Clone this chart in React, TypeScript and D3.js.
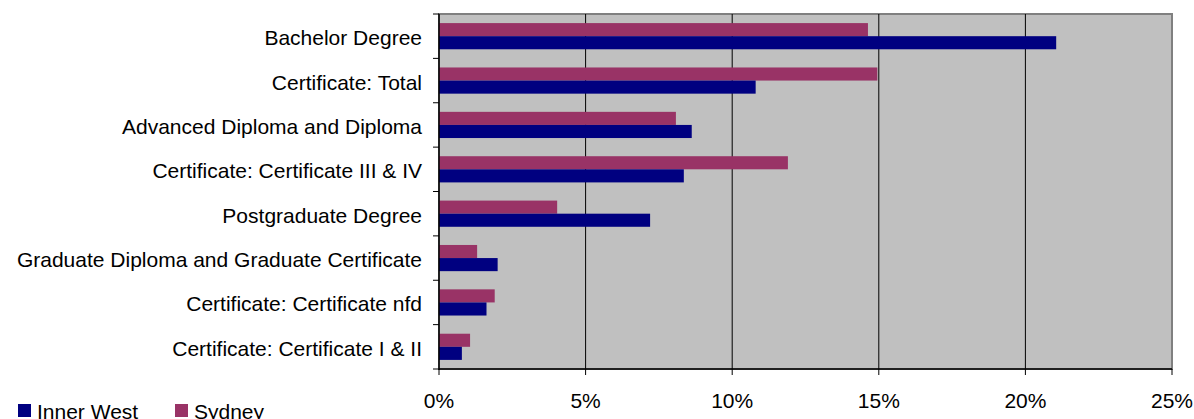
import * as d3 from "d3";

const categories = [
  "Bachelor Degree",
  "Certificate: Total",
  "Advanced Diploma and Diploma",
  "Certificate: Certificate III & IV",
  "Postgraduate Degree",
  "Graduate Diploma and Graduate Certificate",
  "Certificate: Certificate nfd",
  "Certificate: Certificate I & II",
];
const innerWest = [21.05, 10.8, 8.62, 8.35, 7.2, 2.0, 1.62, 0.78];
const sydney = [14.63, 14.95, 8.08, 11.9, 4.03, 1.3, 1.9, 1.06];
const xTicks = [0, 5, 10, 15, 20, 25];

const seriesNames = ["Inner West", "Sydney"];
const colors = ["#000080", "#993366"];

const width = 1194;
const height = 419;
const margin = { left: 439, right: 22, top: 14, bottom: 50 };

export default function App() {
  const x = d3
    .scaleLinear()
    .domain([0, 25])
    .range([margin.left, width - margin.right]);
  const y = d3
    .scaleBand<string>()
    .domain(categories)
    .range([margin.top, height - margin.bottom])
    .paddingInner(0.41)
    .paddingOuter(0.205);
  const inner = d3
    .scaleBand<string>()
    .domain(["Sydney", "Inner West"])
    .range([0, y.bandwidth()]);

  const plotTop = margin.top;
  const plotBottom = height - margin.bottom;
  const step = (plotBottom - plotTop) / categories.length;
  const font = "'Liberation Sans', Arial, sans-serif";
  const fs = 21;

  return (
    <svg
      width={width}
      height={height}
      style={{ position: "absolute", left: 0, top: 0 }}
      fontFamily={font}
    >
      <rect
        x={x(0)}
        y={plotTop}
        width={x(25) - x(0)}
        height={plotBottom - plotTop}
        fill="#c0c0c0"
        stroke="#808080"
        strokeWidth={2}
      />
      {xTicks.slice(1, -1).map((t) => (
        <line
          key={t}
          x1={x(t)}
          x2={x(t)}
          y1={plotTop}
          y2={plotBottom}
          stroke="#000"
          strokeWidth={1}
        />
      ))}
      {categories.map((c, i) => (
        <g key={c}>
          <rect
            x={x(0)}
            y={(y(c) as number) + (inner("Sydney") as number)}
            width={x(sydney[i]) - x(0)}
            height={inner.bandwidth()}
            fill={colors[1]}
          />
          <rect
            x={x(0)}
            y={(y(c) as number) + (inner("Inner West") as number)}
            width={x(innerWest[i]) - x(0)}
            height={inner.bandwidth()}
            fill={colors[0]}
          />
          <text
            x={422}
            y={(y(c) as number) + y.bandwidth() / 2 + 9}
            textAnchor="end"
            fontSize={fs}
            fill="#000"
          >
            {c}
          </text>
        </g>
      ))}
      {/* left axis */}
      <line x1={x(0)} x2={x(0)} y1={plotTop} y2={plotBottom + 1} stroke="#000" strokeWidth={1.5} />
      {d3.range(categories.length + 1).map((i) => (
        <line
          key={i}
          x1={x(0) - 6}
          x2={x(0)}
          y1={plotTop + i * step}
          y2={plotTop + i * step}
          stroke="#000"
        />
      ))}
      {/* bottom axis */}
      <line x1={x(0)} x2={x(25)} y1={plotBottom} y2={plotBottom} stroke="#000" strokeWidth={1.5} />
      {xTicks.map((t) => (
        <g key={t}>
          <line x1={x(t)} x2={x(t)} y1={plotBottom} y2={plotBottom + 6} stroke="#000" />
          <text x={x(t)} y={plotBottom + 39} textAnchor="middle" fontSize={fs} fill="#000">
            {t}%
          </text>
        </g>
      ))}
      {/* legend */}
      {seriesNames.map((s, i) => (
        <g key={s} transform={`translate(${18 + i * 157}, 0)`}>
          <rect x={0} y={404} width={13} height={13} fill={colors[i]} />
          <text x={19} y={419} fontSize={fs} fill="#000">
            {s}
          </text>
        </g>
      ))}
    </svg>
  );
}
